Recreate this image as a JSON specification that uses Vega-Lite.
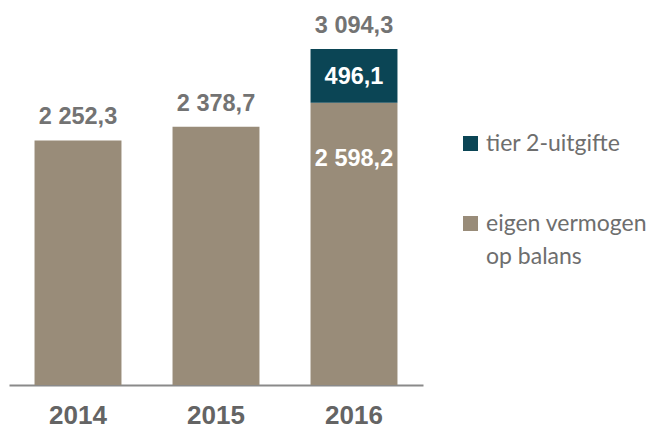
{
  "$schema": "https://vega.github.io/schema/vega-lite/v6.json",
  "width": 414,
  "height": 375,
  "autosize": "none",
  "padding": {"left": 9, "top": 10, "right": 234, "bottom": 45},
  "background": "white",
  "config": {
    "view": {"stroke": null},
    "locale": {"number": {"decimal": ",", "thousands": " ", "grouping": [3], "currency": ["", ""]}}
  },
  "data": {
    "values": [
      {"year": "2014", "type": "eigen vermogen op balans", "value": 2252.3},
      {"year": "2015", "type": "eigen vermogen op balans", "value": 2378.7},
      {"year": "2016", "type": "eigen vermogen op balans", "value": 2598.2},
      {"year": "2016", "type": "tier 2-uitgifte", "value": 496.1}
    ]
  },
  "encoding": {
    "x": {
      "field": "year", "type": "nominal",
      "scale": {"paddingInner": 0.37, "paddingOuter": 0.185},
      "axis": {
        "title": null, "labelAngle": 0, "ticks": false,
        "labelFont": "Liberation Sans", "labelFontWeight": "bold", "labelFontSize": 26,
        "labelColor": "#646464", "labelPadding": 17,
        "domainColor": "#8a8a8a", "domainWidth": 2, "grid": false
      }
    }
  },
  "layer": [
    {
      "mark": {"type": "bar"},
      "encoding": {
        "y": {"field": "value", "type": "quantitative", "aggregate": "sum", "stack": "zero",
              "scale": {"domain": [0, 3453], "nice": false}, "axis": null},
        "color": {
          "field": "type", "type": "nominal",
          "scale": {"domain": ["tier 2-uitgifte", "eigen vermogen op balans"], "range": ["#0b4555", "#998c79"]},
          "legend": {
            "title": null, "orient": "none", "legendX": 450, "legendY": 122,
            "symbolType": "square", "symbolSize": 225, "symbolStrokeWidth": 0,
            "labelFont": "Lato", "labelFontSize": 23, "labelColor": "#6e6e6e",
            "labelBaseline": "middle", "labelOffset": 4,
            "rowPadding": 56, "labelLimit": 300,
            "labelExpr": "datum.label == 'eigen vermogen op balans' ? ['eigen vermogen', 'op balans'] : datum.label",
            "encoding": {"labels": {"lineHeight": {"value": 33}}}
          }
        },
        "order": {"field": "type", "sort": "ascending"}
      }
    },
    {
      "transform": [{"aggregate": [{"op": "sum", "field": "value", "as": "total"}], "groupby": ["year"]}],
      "mark": {"type": "text", "baseline": "alphabetic", "dy": -16, "font": "Liberation Sans", "fontWeight": "bold", "fontSize": 23.5, "color": "#737373"},
      "encoding": {
        "y": {"field": "total", "type": "quantitative", "scale": {"domain": [0, 3453], "nice": false}, "axis": null},
        "text": {"field": "total", "type": "quantitative", "format": ",.1f"}
      }
    },
    {
      "transform": [
        {"stack": "value", "groupby": ["year"], "sort": [{"field": "type", "order": "ascending"}], "as": ["v0", "v1"]},
        {"filter": "datum.type == 'tier 2-uitgifte'"}
      ],
      "mark": {"type": "text", "baseline": "alphabetic", "dy": 35, "font": "Liberation Sans", "fontWeight": "bold", "fontSize": 23.5, "color": "white"},
      "encoding": {
        "y": {"field": "v1", "type": "quantitative", "scale": {"domain": [0, 3453], "nice": false}, "axis": null},
        "text": {"field": "value", "type": "quantitative", "format": ",.1f"}
      }
    },
    {
      "transform": [
        {"stack": "value", "groupby": ["year"], "sort": [{"field": "type", "order": "ascending"}], "as": ["v0", "v1"]},
        {"filter": "datum.year == '2016' && datum.type == 'eigen vermogen op balans'"}
      ],
      "mark": {"type": "text", "baseline": "alphabetic", "dy": 63, "font": "Liberation Sans", "fontWeight": "bold", "fontSize": 23.5, "color": "white"},
      "encoding": {
        "y": {"field": "v1", "type": "quantitative", "scale": {"domain": [0, 3453], "nice": false}, "axis": null},
        "text": {"field": "value", "type": "quantitative", "format": ",.1f"}
      }
    }
  ]
}
